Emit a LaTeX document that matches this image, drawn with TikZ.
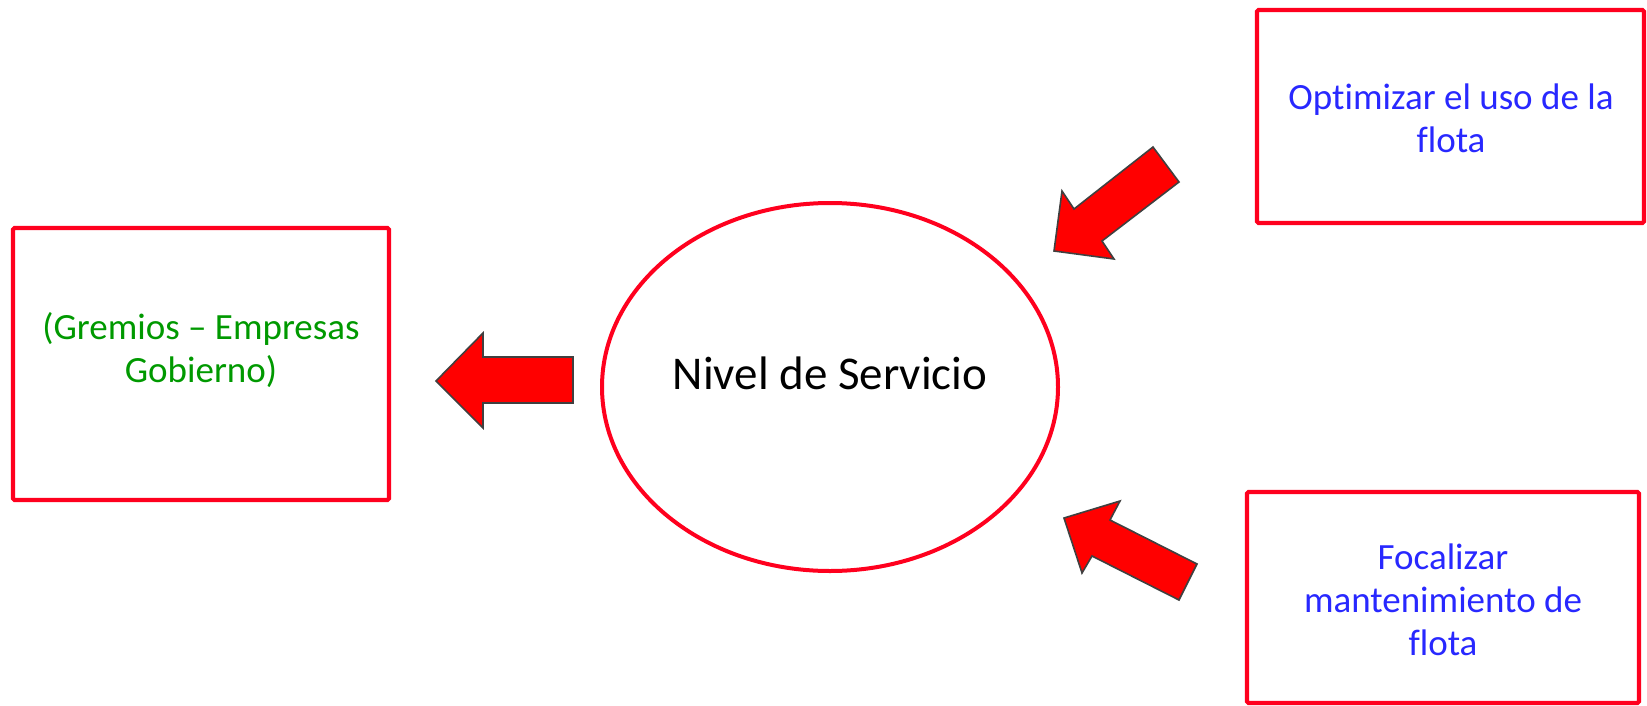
\documentclass[tikz,border=0pt]{standalone}
\usepackage{fontspec}
\setmainfont{Carlito}[Ligatures=NoCommon]
\definecolor{boxred}{RGB}{255,0,30}
\definecolor{txtblue}{RGB}{40,40,255}
\definecolor{txtgreen}{RGB}{0,153,0}
\definecolor{arrowedge}{RGB}{64,64,64}
\tikzset{
  redbox/.style={draw=boxred, line width=4.2pt, rounded corners=1.5pt},
  blocktxt/.style={align=center, font=\fontsize{37}{43}\selectfont},
  blockarrow/.style={fill=red, draw=arrowedge, line width=1.6pt, line join=miter},
}
\begin{document}
\begin{tikzpicture}[x=1pt,y=-1pt]
\useasboundingbox (0,0) rectangle (1647,705);
% boxes
\draw[redbox] (13,228) rectangle (389,500);
\node[blocktxt, text=txtgreen] (left) at (201,350) {(Gremios – Empresas\\Gobierno)};
\draw[redbox] (1257,10) rectangle (1644,223);
\node[blocktxt, text=txtblue] (tr) at (1451,118) {Optimizar el uso de la\\flota};
\draw[redbox] (1247,492) rectangle (1639,703);
\node[blocktxt, text=txtblue] (br) at (1443,600) {Focalizar\\mantenimiento de\\flota};
% ellipse
\draw[boxred, line width=4pt] (830,387) ellipse [x radius=228, y radius=184];
\node[font=\fontsize{47}{56}\selectfont] (nivel) at (830,373) {Nivel de Servicio};
% arrows
\draw[blockarrow] (436,381) -- (483,333) -- (483,357) -- (573,357) -- (573,403) -- (483,403) -- (483,428) -- cycle;
\draw[blockarrow] (1054,251) -- (1062,191) -- (1074,209) -- (1153,147) -- (1179,182) -- (1102,241) -- (1114,259) -- cycle;
\draw[blockarrow] (1064,518) -- (1120,501) -- (1110,520) -- (1197,564) -- (1179,600) -- (1092,556) -- (1082,573) -- cycle;
\end{tikzpicture}
\end{document}
